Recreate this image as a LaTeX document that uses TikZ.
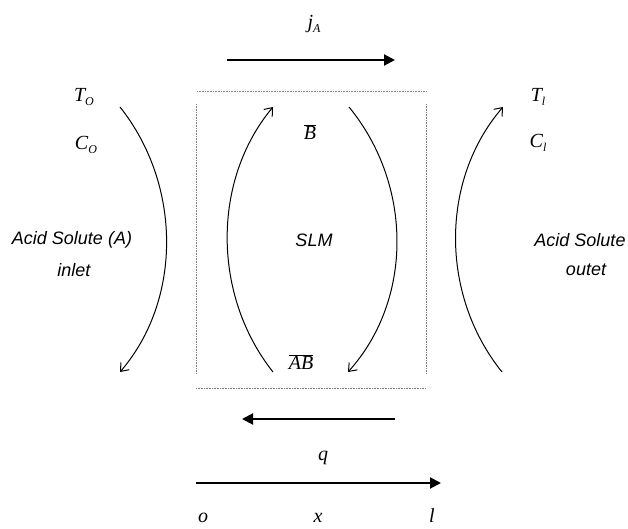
\documentclass[tikz,border=0pt]{standalone}
\usepackage{fontspec}
\setsansfont{Liberation Sans}
\newfontfamily\serifit{Liberation Serif}[ItalicFont={Liberation Serif Italic}]
\usetikzlibrary{arrows.meta}
\newcommand{\mvar}[2]{{\itshape #1}\raisebox{-4pt}{\fontsize{12}{12}\selectfont\itshape #2}}
\begin{document}
\begin{tikzpicture}[x=1pt,y=-1pt,
  lbl/.style={inner sep=0pt,font=\serifit\itshape\fontsize{20}{23}\selectfont},
  slbl/.style={inner sep=0pt,font=\sffamily\itshape\fontsize{18}{21}\selectfont},
  dotline/.style={gray,line width=0.9pt,dash pattern=on 1pt off 0.6pt},
  bigarrow/.style={line width=2pt,-{Triangle[length=11pt,width=11pt]}},
  flow/.style={line width=1pt,-{Straight Barb[length=7pt,width=11pt]}}]
\useasboundingbox (0,0) rectangle (628,529);
% membrane box
\coordinate (tl) at (197,91);
\coordinate (tr) at (427,91);
\coordinate (ul) at (196,104);
\coordinate (ur) at (426,104);
\coordinate (ll) at (196,373);
\coordinate (lr) at (426,373);
\coordinate (bl) at (196,388);
\coordinate (br) at (425,388);
\draw[dotline] (tl) -- (tr);
\draw[dotline] (bl) -- (br);
\draw[dotline] (ul) -- (ll);
\draw[dotline] (ur) -- (lr);
% flux arrows
\coordinate (ja1) at (227,60);
\coordinate (ja2) at (395,60);
\draw[bigarrow] (ja1) -- (ja2);
\node[lbl] (jA) at (314,24) {\mvar{j}{A}};
\coordinate (q1) at (395,419);
\coordinate (q2) at (242,419);
\draw[bigarrow] (q1) -- (q2);
\node[lbl] (q) at (323,458) {q};
\coordinate (x1) at (196,483);
\coordinate (x2) at (441,483);
\draw[bigarrow] (x1) -- (x2);
\node[lbl] (o) at (203,518) {o};
\node[lbl] (x) at (318,518) {x};
\node[lbl] (l) at (432,516) {l};
% curves
\coordinate (a1) at (120,107);
\coordinate (a2) at (120,372);
\draw[flow] (a1) .. controls (182,185) and (182,300) .. (a2);
\coordinate (b1) at (273,372);
\coordinate (b2) at (273,107);
\draw[flow] (b1) .. controls (212,295) and (212,180) .. (b2);
\coordinate (c1) at (349,107);
\coordinate (c2) at (348,372);
\draw[flow] (c1) .. controls (413,185) and (413,300) .. (c2);
\coordinate (d1) at (502,372);
\coordinate (d2) at (503,107);
\draw[flow] (d1) .. controls (440,295) and (440,180) .. (d2);
% labels
\node[lbl] (TO) at (84,97) {\mvar{T}{O}};
\node[lbl] (CO) at (86,145) {\mvar{C}{O}};
\node[lbl] (Tl) at (538,97) {\mvar{T}{l}};
\node[lbl] (Cl) at (538,143) {\mvar{C}{l}};
\node[lbl] (B) at (310,132) {$\overline{\hbox{\serifit\itshape B}}$};
\node[lbl] (AB) at (301,362) {$\overline{\hbox{\serifit\itshape AB}}$};
\node[slbl] (slm) at (314,240) {SLM};
\node[slbl] (in1) at (72,240) {Acid Solute (A)};
\node[slbl] (in2) at (74,270) {inlet};
\node[slbl] (out1) at (580,240) {Acid Solute};
\node[slbl] (out2) at (586,270) {outet};
\end{tikzpicture}
\end{document}
